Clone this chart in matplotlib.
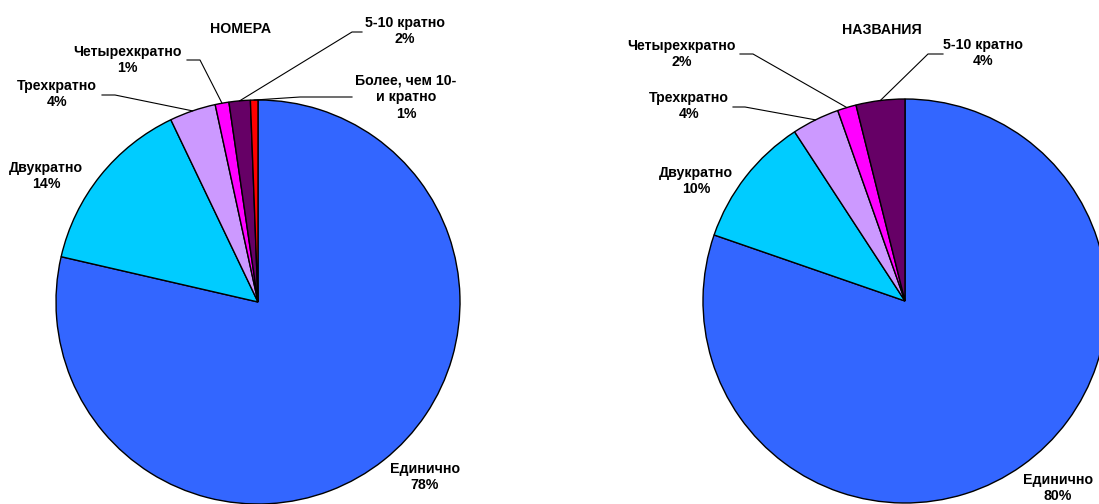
import matplotlib
matplotlib.use('Agg')
import matplotlib.pyplot as plt
import numpy as np

# shares (percent)
categories = ['Единично', 'Двукратно', 'Трехкратно', 'Четырехкратно',
              '5-10 кратно', 'Более, чем 10-\nи кратно']
nomera_values = [78.6, 14.3, 3.7, 1.1, 1.7, 0.6]
nomera_pct = ['78%', '14%', '4%', '1%', '2%', '1%']
nazvaniya_values = [80.3, 10.5, 3.8, 1.5, 3.9]
nazvaniya_pct = ['80%', '10%', '4%', '2%', '4%']
colors = ['#3366FF', '#00CCFF', '#CC99FF', '#FF00FF', '#660066', '#FF0000']

W, H = 1099, 504
R = 202

# label layout in pixels from top-left: text centre, leader points near the text
left_layout = [
    ((425, 477), None),
    ((46, 176), None),
    ((57, 94), [(102, 95), (115, 95)]),
    ((127, 60), [(187, 60), (200, 60)]),
    ((405, 31), [(362, 32), (352, 32)]),
    ((406, 97), [(352, 97), (300, 97)]),
]
right_layout = [
    ((1058, 488), None),
    ((696, 181), None),
    ((689, 106), [(733, 107), (745, 107)]),
    ((682, 54), [(740, 54), (753, 54)]),
    ((983, 53), [(943, 54), (928, 54)]),
]

font = dict(family='Liberation Sans', fontweight='bold', fontsize=10.2)


def fy(y):
    return H - y


def draw_pie(ax, values, pct, center, layout, title, title_pos):
    cx, cy = center[0], fy(center[1])
    wedges, _ = ax.pie(values, colors=colors[:len(values)], startangle=90,
                       counterclock=False, center=(cx, cy), radius=R,
                       wedgeprops=dict(edgecolor='black', linewidth=1.0))
    for w, name, p, (tpos, leader) in zip(wedges, categories, pct, layout):
        ax.text(tpos[0], fy(tpos[1]), name + '\n' + p, ha='center', va='center',
                linespacing=1.25, **font)
        if leader is not None:
            mid = np.deg2rad((w.theta1 + w.theta2) / 2)
            ex = cx + R * np.cos(mid)
            ey = cy + R * np.sin(mid)
            xs = [leader[0][0], leader[1][0], ex]
            ys = [fy(leader[0][1]), fy(leader[1][1]), ey]
            ax.plot(xs, ys, color='black', linewidth=0.8)
    ax.text(title_pos[0], fy(title_pos[1]), title, ha='center', va='center', **font)


fig = plt.figure(figsize=(W / 100, H / 100), dpi=100)
ax = fig.add_axes([0, 0, 1, 1])
draw_pie(ax, nomera_values, nomera_pct, (258, 302), left_layout, 'НОМЕРА', (241, 29))
draw_pie(ax, nazvaniya_values, nazvaniya_pct, (905, 301), right_layout, 'НАЗВАНИЯ', (882, 30))
ax.set_xlim(0, W)
ax.set_ylim(0, H)
ax.set_aspect('equal')
ax.axis('off')

fig.savefig('out.png', dpi=100)
